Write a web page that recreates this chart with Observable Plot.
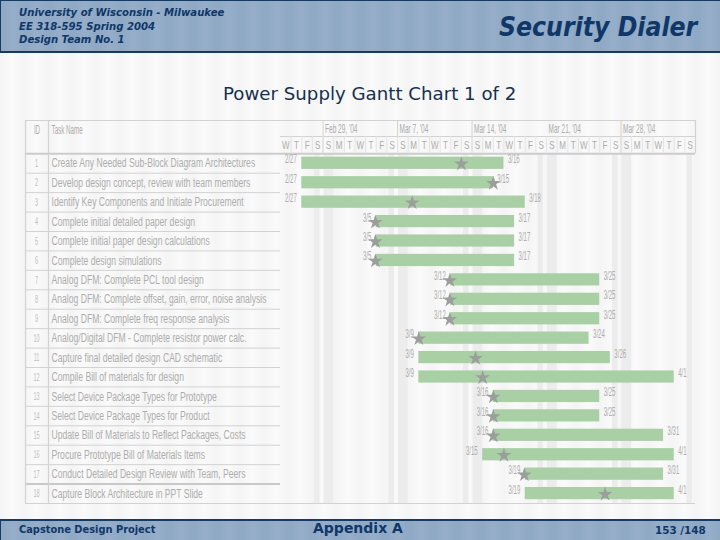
<!DOCTYPE html>
<html><head><meta charset="utf-8">
<script src="https://cdn.jsdelivr.net/npm/d3@7"></script>
<script src="https://cdn.jsdelivr.net/npm/@observablehq/plot@0.6"></script>
<style>
html,body{margin:0;padding:0;width:720px;height:540px;overflow:hidden}
body{position:relative;font-family:"DejaVu Sans",sans-serif;color:#0f3768;
 background:repeating-linear-gradient(90deg,#f4f4f4 0,#fafafa 12px,#f4f4f4 24px)}
.band{position:absolute;left:0;width:720px;box-sizing:border-box;
 background:repeating-linear-gradient(90deg,#8ea8c5 0,#96aec9 12px,#8ea8c5 24px);}
#top{top:0;height:53px;border:1px solid #143a66;border-width:1px 0 2px 1px}
#bot{top:519px;height:21px;border-top:2px solid #143a66;border-left:1px solid #143a66}
.t{position:absolute;white-space:nowrap;line-height:1}
#chart{position:absolute;left:0;top:116px}
</style></head><body>
<div class="band" id="top"></div><div class="band" id="bot"></div>
<div class="t" style="left:19px;top:7px;font:italic bold 10.1px 'DejaVu Sans'">University of Wisconsin - Milwaukee</div>
<div class="t" style="left:19px;top:21px;font:italic bold 10.1px 'DejaVu Sans'">EE 318-595 Spring 2004</div>
<div class="t" style="left:19px;top:34px;font:italic bold 10.1px 'DejaVu Sans'">Design Team No. 1</div>
<div class="t" style="left:499px;top:12px;font:italic bold 26.3px 'DejaVu Sans Condensed','DejaVu Sans'">Security Dialer</div>
<div class="t" style="left:223px;top:83px;font:18.2px 'DejaVu Sans';color:#16304f">Power Supply Gantt Chart 1 of 2</div>
<div class="t" style="left:19px;top:524px;font:bold 9.85px 'DejaVu Sans'">Capstone Design Project</div>
<div class="t" style="left:313px;top:520px;font:bold 14px 'DejaVu Sans'">Appendix A</div>
<div class="t" style="left:655px;top:524px;font:bold 10.4px 'DejaVu Sans'">153 /148</div>
<div id="chart"></div>
<script>
const tasks = [
 "Create Any Needed Sub-Block Diagram Architectures",
 "Develop design concept, review with team members",
 "Identify Key Components and Initiate Procurement",
 "Complete initial detailed paper design",
 "Complete initial paper design calculations",
 "Complete design simulations",
 "Analog DFM: Complete PCL tool design",
 "Analog DFM: Complete offset, gain, error, noise analysis",
 "Analog DFM: Complete freq response analysis",
 "Analog/Digital DFM - Complete resistor power calc.",
 "Capture final detailed design CAD schematic",
 "Compile Bill of materials for design",
 "Select Device Package Types for Prototype",
 "Select Device Package Types for Product",
 "Update Bill of Materials to Reflect Packages, Costs",
 "Procure Prototype Bill of Materials Items",
 "Conduct Detailed Design Review with Team, Peers",
 "Capture Block Architecture in PPT Slide"];
const starts = ["02-27","02-27","02-27","03-05","03-05","03-05","03-12","03-12","03-12","03-09","03-09","03-09","03-16","03-16","03-16","03-15","03-19","03-19"];
const ends = ["03-16","03-15","03-18","03-17","03-17","03-17","03-25","03-25","03-25","03-24","03-26","04-01","03-25","03-25","03-31","04-01","03-31","04-01"];
const stars = ["03-13T00","03-16T00","03-08T09","03-04T22","03-04T22","03-04T22","03-11T22","03-11T22","03-11T22","03-09T00","03-14T08","03-15T00","03-16T00","03-16T00","03-16T00","03-17T00","03-18T22","03-26T12"];
const weekLabels = ["Feb 29, '04","Mar 7, '04","Mar 14, '04","Mar 21, '04","Mar 28, '04"];
const weekStarts = ["02-29","03-07","03-14","03-21","03-28"];
const weekDividers = ["02-29","03-07","03-14","03-28"];
const saturdays = ["02-28","03-06","03-13","03-20","03-27","04-03"];
const sundays = ["02-29","03-07","03-14","03-21","03-28"];
const firstDay = "02-25", lastDay = "04-04";
const letters = ["S","M","T","W","T","F","S"];

const D = s => new Date("2004-" + s + (s.includes("T") ? ":00Z" : "T00:00Z"));
const md = d3.utcFormat("%-m/%-d");
const rows = tasks.map((name,i)=>({name,id:i+1,row:i+.5,y1:i,y2:i+1,start:D(starts[i]),end:D(ends[i]),
  stop:d3.utcDay.offset(D(ends[i]),1),star:D(stars[i])}));
const days = d3.utcDay.range(D(firstDay),D(lastDay));
const dayCells = days.map(d=>({d,mid:new Date(+d+432e5),letter:letters[d.getUTCDay()]}));
const weeks = weekLabels.map((label,i)=>({label,d:D(weekStarts[i])}));
const line="#d2d2d2", ink="#adadad";
const HDR1=-1.713, HDR2=-0.89;
const TL=-255, IDL=-232;
const left=D(firstDay);

const plot = Plot.plot({
  width:720,height:389,marginTop:4,marginBottom:2,marginLeft:280,marginRight:25,
  style:{background:"transparent",fontFamily:"'Liberation Sans',sans-serif",overflow:"visible"},
  x:{type:"utc",domain:[D(firstDay),D(lastDay)],axis:null},
  y:{domain:[HDR1,18],reverse:true,axis:null},
  marks:[
    Plot.rect(saturdays,{x1:D,x2:s=>d3.utcDay.offset(D(s),1),y1:0,y2:18,fill:"#ececec",insetLeft:2,insetRight:3}),
    Plot.rect(sundays,{x1:D,x2:s=>d3.utcDay.offset(D(s),1),y1:0,y2:18,fill:"#ececec",insetLeft:1}),
    // table rows, drawn as long outward ticks of the y axis
    Plot.axisY(d3.range(1,18).filter(v=>v!==17),{tickSize:255,stroke:line,tickFormat:()=>"",label:null}),
    Plot.axisY([17],{tickSize:255,stroke:"#c8c8c8",strokeWidth:2,tickFormat:()=>"",label:null}),
    Plot.ruleY([0],{stroke:"#cccccc",strokeWidth:2}),
    Plot.axisY([0],{tickSize:255,stroke:"#cccccc",strokeWidth:2,tickFormat:()=>"",label:null}),
    Plot.ruleY([18,HDR1],{stroke:line,strokeWidth:1.2}),
    Plot.axisY([18,HDR1],{tickSize:255,stroke:line,strokeWidth:1.2,tickFormat:()=>"",label:null}),
    Plot.ruleY([HDR2],{stroke:line}),
    Plot.ruleX([left],{y1:HDR1,y2:18,dx:TL,stroke:line,strokeWidth:1.2}),
    Plot.ruleX([left],{y1:HDR1,y2:18,dx:IDL,stroke:line,strokeWidth:1.2}),
    Plot.ruleX([D(lastDay)],{y1:HDR1,y2:0,stroke:line,strokeWidth:1.2}),
    Plot.ruleX(weekDividers,{x:D,y1:HDR1,y2:0,stroke:line}),
    Plot.ruleX(days.slice(1),{y1:HDR2,y2:0,stroke:"#e4e4e4"}),
    Plot.text(["ID"],{x:left,y:-1.22,dx:TL+11.5,fontSize:12.5,fill:ink,className:"sqh"}),
    Plot.text(["Task Name"],{x:left,y:-1.22,dx:IDL+3,fontSize:12.5,fill:ink,textAnchor:"start",className:"sqh"}),
    Plot.text(weeks,{x:"d",y:-1.27,text:"label",dx:2,fontSize:13,fill:ink,textAnchor:"start",className:"sqh"}),
    Plot.text(dayCells,{x:"mid",y:-0.45,text:"letter",fontSize:11.5,fill:ink,className:"sqd"}),
    Plot.text(rows,{x:()=>left,y:"row",text:"id",dx:TL+11,fontSize:11,fill:"#bdbdbd",className:"sqh"}),
    Plot.text(rows,{x:()=>left,y:"row",text:"name",dx:IDL+3,fontSize:12.5,fill:ink,textAnchor:"start",className:"taskname"}),
    Plot.rect(rows,{x1:"start",x2:"stop",y1:"y1",y2:"y2",fill:"#a9cfa5",insetTop:3.4,insetBottom:3.8}),
    Plot.dot(rows,{x:"star",y:"row",symbol:"star",r:4.6,fill:"#9a9f9c",dy:0.5}),
    Plot.text(rows,{x:"start",y:"row",text:d=>md(d.start),dx:-5,dy:-4,fontSize:12,fill:ink,textAnchor:"end",className:"sqh"}),
    Plot.text(rows,{x:"stop",y:"row",text:d=>md(d.end),dx:4,dy:-4,fontSize:12,fill:ink,textAnchor:"start",className:"sqh"})
  ]
});
document.getElementById("chart").append(plot);
// The source's table text is tightly condensed: squeeze real text horizontally.
function squeeze(sel,k){
  plot.querySelectorAll(sel+" text").forEach(t=>{
    const w=t.getComputedTextLength();
    t.setAttribute("textLength",w*k);
    t.setAttribute("lengthAdjust","spacingAndGlyphs");
  });
}
squeeze(".sqh",0.5);
squeeze(".sqd",0.7);
const longest=Math.max(...[...plot.querySelectorAll(".taskname text")].map(t=>t.getComputedTextLength()));
squeeze(".taskname",215/longest);
</script>
</body></html>
